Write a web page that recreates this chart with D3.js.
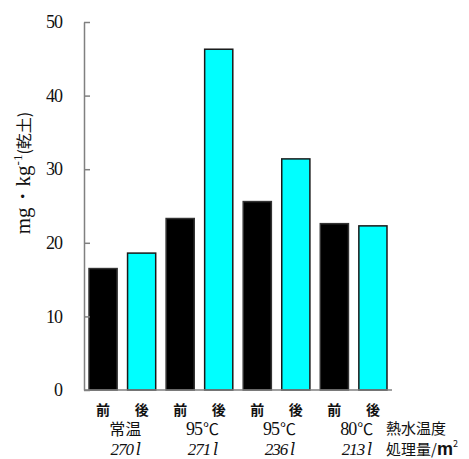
<!DOCTYPE html>
<html>
<head>
<meta charset="utf-8">
<script src="https://cdn.jsdelivr.net/npm/d3@7/dist/d3.min.js"></script>
<style>
  html, body { margin: 0; padding: 0; background: #fff; }
  svg { display: block; }
  .serif { font-family: "Liberation Serif", "DejaVu Serif", serif; }
  .cjk { font-family: "Noto Sans CJK JP", sans-serif; }
</style>
</head>
<body>
<svg id="chart" width="469" height="459"></svg>
<script>
// Treatment groups (hot-water temperature) and volumes per m²
const groupTemps = ["常温", "95", "95", "80"];
const volumes = ["270", "271", "236", "213"];
const phases = ["前", "後"];
// Concentration (mg·kg⁻¹ dry soil) before and after treatment
const beforeValues = [16.5, 23.3, 25.6, 22.6];
const afterValues = [18.6, 46.3, 31.4, 22.3];
const yTicks = [0, 10, 20, 30, 40, 50];

const bars = [];
groupTemps.forEach((g, i) => {
  bars.push({ key: i * 2, phase: phases[0], value: beforeValues[i], group: i });
  bars.push({ key: i * 2 + 1, phase: phases[1], value: afterValues[i], group: i });
});

const svg = d3.select("#chart");

const x = d3.scaleBand()
  .domain(bars.map(d => d.key))
  .range([84, 392])
  .paddingInner(0.27)
  .paddingOuter(0.13);

const y = d3.scaleLinear().domain([0, 50]).range([390, 22]);

// Bars
svg.append("g").selectAll("rect")
  .data(bars)
  .join("rect")
  .attr("x", d => x(d.key))
  .attr("y", d => y(d.value))
  .attr("width", x.bandwidth())
  .attr("height", d => y(0) - y(d.value))
  .attr("fill", d => d.phase === "前" ? "#000" : "#00ffff")
  .attr("stroke", d => d.phase === "前" ? "#333" : "#1a1a1a")
  .attr("stroke-width", 1.5);

// Y axis with inward ticks
const yAxis = svg.append("g")
  .attr("transform", "translate(84,0)")
  .call(d3.axisLeft(y).tickValues(yTicks).tickSizeInner(-6).tickSizeOuter(0).tickPadding(22));
yAxis.attr("font-family", null).attr("font-size", null);
yAxis.select(".domain").attr("stroke", "#808080").attr("stroke-width", 1.5);
yAxis.selectAll(".tick line").attr("stroke", "#808080").attr("stroke-width", 1.5);
yAxis.selectAll(".tick text")
  .attr("class", "serif")
  .style("font-size", "18px")
  .attr("fill", "#111")
  .attr("letter-spacing", -1);

// Baseline
svg.append("line")
  .attr("x1", 84).attr("x2", 392)
  .attr("y1", y(0)).attr("y2", y(0))
  .attr("stroke", "#808080").attr("stroke-width", 1.5);

// Y axis title
const title = svg.append("text")
  .attr("class", "serif")
  .attr("transform", "translate(30,173) rotate(-90)")
  .attr("text-anchor", "middle")
  .style("font-size", "21px")
  .attr("fill", "#111");
title.append("tspan").text("mg・kg");
title.append("tspan").attr("dy", -8).style("font-size", "13px").text("-1");
title.append("tspan").attr("dy", 8).attr("class", "cjk").style("font-size", "16px").text("(乾土)");

// Before / after labels
svg.append("g").selectAll("text")
  .data(bars)
  .join("text")
  .attr("class", "cjk")
  .attr("x", d => x(d.key) + x.bandwidth() / 2)
  .attr("y", 415)
  .attr("text-anchor", "middle")
  .attr("font-weight", "bold")
  .style("font-size", "14px")
  .attr("fill", "#111")
  .text(d => d.phase);

const groupCenter = i => (x(i * 2) + x(i * 2 + 1) + x.bandwidth()) / 2 + 3;

// Temperature labels
const temp = svg.append("g").selectAll("text")
  .data(groupTemps)
  .join("text")
  .attr("x", (d, i) => groupCenter(i))
  .attr("y", 435)
  .attr("text-anchor", "middle")
  .attr("fill", "#111");
temp.each(function (d, i) {
  const t = d3.select(this);
  if (i === 0) {
    t.append("tspan").attr("class", "cjk").style("font-size", "16px").text(d);
  } else {
    t.append("tspan").attr("class", "serif").style("font-size", "18px").attr("letter-spacing", -1).text(d);
    t.append("tspan").attr("class", "cjk").style("font-size", "16px").attr("dx", 1).text("℃");
  }
});

// Volume labels
const vol = svg.append("g").selectAll("text")
  .data(volumes)
  .join("text")
  .attr("class", "serif")
  .attr("x", (d, i) => groupCenter(i))
  .attr("y", 455)
  .attr("text-anchor", "middle")
  .attr("font-style", "italic")
  .style("font-size", "17px")
  .attr("letter-spacing", -1)
  .attr("fill", "#111");
vol.append("tspan").text(d => d);
vol.append("tspan").attr("dx", 3).style("font-family", "'DejaVu Serif', serif").style("font-size", "16px").text("l");

// Row captions on the right
svg.append("text")
  .attr("class", "cjk")
  .attr("x", 386).attr("y", 433.5)
  .style("font-size", "15px").attr("fill", "#111")
  .text("熱水温度");
const cap2 = svg.append("text")
  .attr("class", "cjk")
  .attr("x", 386).attr("y", 454.5)
  .style("font-size", "15px").attr("fill", "#111");
cap2.append("tspan").text("処理量/");
cap2.append("tspan").attr("font-weight", "bold").style("font-family", "'Liberation Sans', sans-serif").style("font-size", "18px").text("m");
cap2.append("tspan").attr("dy", -8).style("font-size", "9px").text("2");
</script>
</body>
</html>
